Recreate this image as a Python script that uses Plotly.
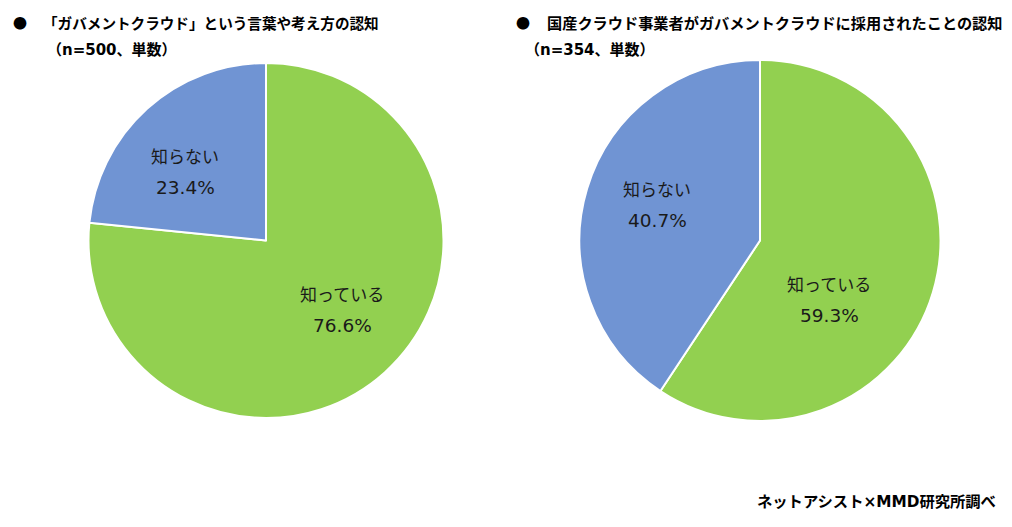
import plotly.graph_objects as go

labels = ["知っている", "知らない"]
left_values = [76.6, 23.4]
right_values = [59.3, 40.7]
left_title = "「ガバメントクラウド」という言葉や考え方の認知"
left_sub = "（n=500、単数）"
right_title = "国産クラウド事業者がガバメントクラウドに採用されたことの認知"
right_sub = "（n=354、単数）"
source = "ネットアシスト×MMD研究所調べ"
colors = ["#92D050", "#7094D3"]

OFF = 8  # page body margin
W, H = 1012 - 2 * OFF, 527 - 2 * OFF
FONT = "DejaVu Sans, Noto Sans CJK JP"
JFONT = "Noto Sans CJK JP"

def dom(x0, x1, y0, y1):
    x0, x1, y0, y1 = x0 - OFF, x1 - OFF, y0 - OFF, y1 - OFF
    return dict(x=[x0 / W, x1 / W], y=[1 - y1 / H, 1 - y0 / H])

fig = go.Figure()
for vals, d in [(left_values, dom(88.5, 443.5, 63, 418)), (right_values, dom(579, 941, 60, 421))]:
    fig.add_trace(go.Pie(
        labels=labels, values=vals, sort=False, direction="clockwise", rotation=0,
        marker=dict(colors=colors, line=dict(color="white", width=2)),
        textinfo="none", hoverinfo="label+percent", domain=d, showlegend=False,
    ))

ann = []
def txt(x, y, s, size=17, bold=False, anchor="center", color="#1a1a1a", family=FONT):
    ann.append(dict(x=(x - OFF) / W, y=1 - (y - OFF) / H, xref="paper", yref="paper", showarrow=False,
                    text=f"<b>{s}</b>" if bold else s, xanchor=anchor, yanchor="middle",
                    font=dict(family=family, size=size, color=color)))

# slice labels
txt(342, 293, labels[0], size=17, family=JFONT); txt(342, 325, f"{left_values[0]}%", size=18.5)
txt(185, 155, labels[1], size=17, family=JFONT); txt(185, 187, f"{left_values[1]}%", size=18.5)
txt(829, 283, labels[0], size=17, family=JFONT); txt(829, 315, f"{right_values[0]}%", size=18.5)
txt(657, 188, labels[1], size=17, family=JFONT); txt(657, 221, f"{right_values[1]}%", size=18.5)

# titles
txt(20, 22, "●", size=14, bold=True, anchor="center", color="#000", family=JFONT)
txt(41, 22, left_title, size=14.6, bold=True, anchor="left", color="#000", family=JFONT)
txt(45, 50, left_sub, size=15, bold=True, anchor="left", color="#000")
txt(523, 22, "●", size=14, bold=True, anchor="center", color="#000", family=JFONT)
txt(545, 22, right_title, size=15.2, bold=True, anchor="left", color="#000", family=JFONT)
txt(523, 50, right_sub, size=15, bold=True, anchor="left", color="#000")
txt(998, 502, source, size=15.3, bold=True, anchor="right", color="#000")

fig.update_layout(width=W, height=H, margin=dict(l=0, r=0, t=0, b=0),
                  paper_bgcolor="white", plot_bgcolor="white", annotations=ann,
                  font=dict(family=FONT))
fig.write_html("out.html")
